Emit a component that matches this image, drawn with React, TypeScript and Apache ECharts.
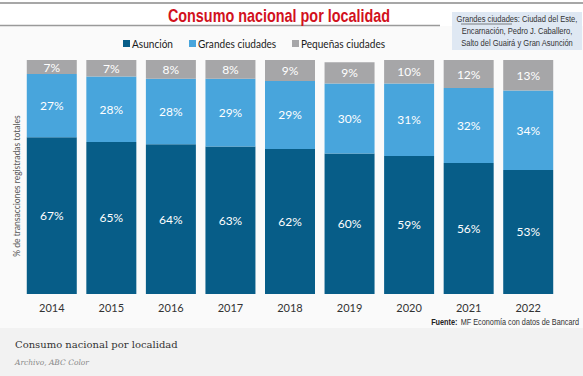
import React, { useEffect, useRef } from "react";
import * as echarts from "echarts";

const years = ["2014", "2015", "2016", "2017", "2018", "2019", "2020", "2021", "2022"];
const asuncion = [67, 65, 64, 63, 62, 60, 59, 56, 53];
const grandes = [27, 28, 28, 29, 29, 30, 31, 32, 34];
const pequenas = [7, 7, 8, 8, 9, 9, 10, 12, 13];
const seriesNames = ["Asunción", "Grandes ciudades", "Pequeñas ciudades"];
const colors = ["#075d88", "#48a5dc", "#a6a6a8"];

const labelFont = "Lato, 'Open Sans', sans-serif";
const narrowFont = "'Liberation Sans Narrow', 'Liberation Sans', Arial, sans-serif";

const legendX = [123, 189, 292];

export default function App() {
  const ref = useRef<HTMLDivElement>(null);
  useEffect(() => {
    document.body.style.margin = "0";
    const chart = echarts.init(ref.current!, null, { renderer: "svg" });
    const data = [asuncion, grandes, pequenas];
    const noteStyle = (text: string) => ({
      text,
      fill: "#333",
      font: `9px ${narrowFont}`,
      align: "center",
      verticalAlign: "middle",
    });
    const legendGraphics: any[] = [];
    seriesNames.forEach((name, i) => {
      legendGraphics.push({
        type: "rect",
        shape: { x: legendX[i], y: 40, width: 7, height: 7 },
        style: { fill: colors[i] },
      });
      legendGraphics.push({
        type: "text",
        x: legendX[i] + 9,
        y: 43.5,
        scaleX: 0.84,
        style: {
          text: name,
          fill: "#1a1a1a",
          font: `12px ${labelFont}`,
          verticalAlign: "middle",
        },
      });
    });
    chart.setOption({
      animation: false,
      backgroundColor: "#ffffff",
      grid: { left: 22, right: 25, top: 60, bottom: 82 },
      xAxis: {
        type: "category",
        data: years,
        axisLine: { show: false },
        axisTick: { show: false },
        axisLabel: { margin: 8, fontFamily: labelFont, fontSize: 11, color: "#333" },
      },
      yAxis: {
        type: "value",
        min: 0,
        max: 100,
        show: false,
      },
      graphic: [
        { type: "rect", shape: { x: 0, y: 26, width: 583, height: 302 }, style: { fill: "#fafafa" }, z: -10 },
        { type: "rect", shape: { x: 0, y: 328, width: 583, height: 48 }, style: { fill: "#f2f2f2" }, z: -10 },
        { type: "line", shape: { x1: 0, y1: 3, x2: 583, y2: 3 }, style: { stroke: "#8a8a8a", lineWidth: 1.5 } },
        { type: "line", shape: { x1: 0, y1: 25.5, x2: 440, y2: 25.5 }, style: { stroke: "#9a9a9a", lineWidth: 1.5 } },
        {
          type: "text",
          x: 279,
          y: 15,
          scaleX: 0.8,
          style: {
            text: "Consumo nacional por localidad",
            fill: "#d2111d",
            font: `bold 18px ${narrowFont}`,
            align: "center",
            verticalAlign: "middle",
          },
        },
        ...legendGraphics,
        { type: "rect", shape: { x: 452, y: 12, width: 130, height: 38 }, style: { fill: "#dfe8f3" } },
        { type: "text", x: 517, y: 19, scaleX: 0.84, style: noteStyle("Grandes ciudades: Ciudad del Este,") },
        { type: "line", shape: { x1: 461, y1: 24, x2: 512, y2: 24 }, style: { stroke: "#333", lineWidth: 0.6 } },
        { type: "text", x: 517, y: 31, scaleX: 0.84, style: noteStyle("Encarnación, Pedro J. Caballero,") },
        { type: "text", x: 517, y: 43, scaleX: 0.84, style: noteStyle("Salto del Guairá y Gran Asunción") },
        {
          type: "text",
          x: 17,
          y: 186,
          rotation: Math.PI / 2,
          style: {
            text: "% de transacciones registradas totales",
            fill: "#555",
            font: `8.5px ${labelFont}`,
            align: "center",
            verticalAlign: "middle",
          },
        },
        {
          type: "text",
          x: 579,
          y: 322,
          scaleX: 0.86,
          style: {
            rich: {
              b: { fontFamily: narrowFont, fontWeight: "bold", fontSize: 8.5, fill: "#222", color: "#222" },
              n: { fontFamily: narrowFont, fontSize: 8.5, fill: "#333", color: "#333" },
            },
            text: "{b|Fuente:} {n|MF Economía con datos de Bancard}",
            align: "right",
            verticalAlign: "middle",
          },
        },
        {
          type: "text",
          x: 15,
          y: 344,
          style: {
            text: "Consumo nacional por localidad",
            fill: "#333",
            font: "10px 'DejaVu Serif', 'Liberation Serif', serif",
            verticalAlign: "middle",
          },
        },
        {
          type: "text",
          x: 15,
          y: 362,
          style: {
            text: "Archivo, ABC Color",
            fill: "#888",
            font: "italic 7.5px 'DejaVu Serif', 'Liberation Serif', serif",
            verticalAlign: "middle",
          },
        },
      ],
      series: seriesNames.map((name, i) => ({
        name,
        type: "bar",
        stack: "total",
        barWidth: 50,
        data: data[i],
        itemStyle: { color: colors[i] },
        label: {
          show: true,
          position: "inside",
          formatter: "{c}%",
          color: "#ffffff",
          fontFamily: labelFont,
          fontSize: 12,
        },
      })),
    });
    return () => chart.dispose();
  }, []);
  return <div ref={ref} style={{ width: 583, height: 376, position: "absolute", left: 0, top: 0 }} />;
}
